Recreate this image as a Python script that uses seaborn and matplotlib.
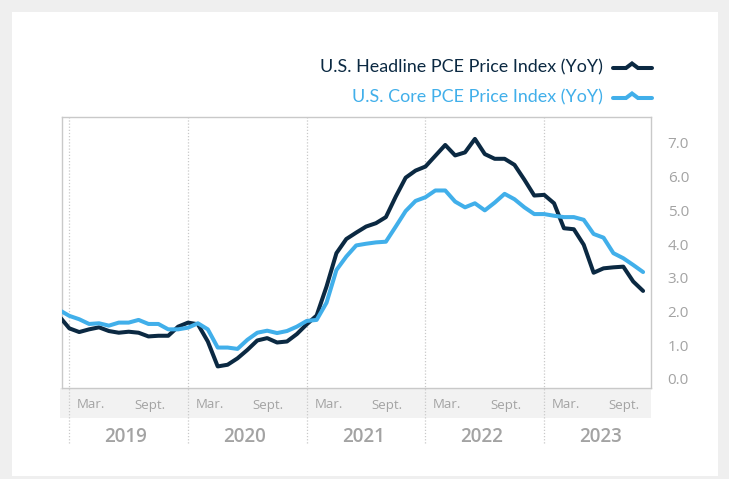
import numpy as np
import pandas as pd
import matplotlib
matplotlib.use("Agg")
import matplotlib.pyplot as plt
import seaborn as sns
from matplotlib.lines import Line2D
from matplotlib.patches import Rectangle

# ---------------- data ----------------
months = pd.date_range("2018-12-01", "2023-11-01", freq="MS")
headline = [1.85,
            1.50, 1.39, 1.47, 1.53, 1.42, 1.37, 1.40, 1.37, 1.26, 1.28, 1.28, 1.55,
            1.67, 1.62, 1.11, 0.37, 0.42, 0.61, 0.86, 1.14, 1.21, 1.08, 1.11, 1.33,
            1.62, 1.88, 2.74, 3.73, 4.15, 4.34, 4.52, 4.62, 4.80, 5.41, 5.97, 6.18,
            6.30, 6.62, 6.94, 6.63, 6.72, 7.12, 6.67, 6.53, 6.53, 6.35, 5.91, 5.44,
            5.46, 5.21, 4.47, 4.44, 3.98, 3.15, 3.28, 3.31, 3.33, 2.89, 2.61]
core = [2.04,
        1.87, 1.77, 1.63, 1.65, 1.58, 1.67, 1.67, 1.75, 1.63, 1.63, 1.47, 1.47,
        1.52, 1.65, 1.47, 0.93, 0.93, 0.89, 1.16, 1.37, 1.43, 1.36, 1.42, 1.55,
        1.72, 1.75, 2.26, 3.23, 3.63, 3.96, 4.01, 4.05, 4.07, 4.52, 4.98, 5.28,
        5.39, 5.59, 5.59, 5.26, 5.09, 5.21, 5.00, 5.23, 5.49, 5.33, 5.09, 4.89,
        4.89, 4.84, 4.80, 4.80, 4.72, 4.30, 4.19, 3.73, 3.58, 3.38, 3.17]
series_names = ["U.S. Headline PCE Price Index (YoY)", "U.S. Core PCE Price Index (YoY)"]
years = ["2019", "2020", "2021", "2022", "2023"]
month_labels = ["Mar.", "Sept."]
y_ticks = [0, 1, 2, 3, 4, 5, 6, 7]

NAVY = "#0b2942"
SKY = "#41afea"
GRAY_TXT = "#a3a3a3"
GRID = "#c9c9c9"

idx = np.arange(len(months))
df = pd.DataFrame({
    "t": np.concatenate([idx, idx]),
    "value": headline + core,
    "series": [series_names[0]] * len(idx) + [series_names[1]] * len(idx),
})

sns.set_style("white")
plt.rcParams["font.family"] = ["Open Sans", "DejaVu Sans"]

W, H = 729, 479
fig = plt.figure(figsize=(W / 100, H / 100), dpi=100, facecolor="#efefef")
panel = Rectangle((12 / W, 1 - 476 / H), 706 / W, 464 / H,
                  transform=fig.transFigure, facecolor="white",
                  edgecolor="none", zorder=-10)
fig.add_artist(panel)

ax_l, ax_r, ax_t, ax_b = 62, 651, 117, 388
ax = fig.add_axes([ax_l / W, 1 - ax_b / H, (ax_r - ax_l) / W, (ax_b - ax_t) / H])
ax.set_facecolor("white")

sns.lineplot(data=df, x="t", y="value", hue="series",
             palette={series_names[0]: NAVY, series_names[1]: SKY},
             linewidth=2.9, legend=False, ax=ax, zorder=5)

ax.set_xlim(0.26, 59.8)
ax.set_ylim(-0.27, 7.77)
ax.set_xlabel("")
ax.set_ylabel("")
ax.set_xticks([])
ax.yaxis.tick_right()
ax.set_yticks(y_ticks)
ax.set_yticklabels([f"{v:.1f}" for v in y_ticks], color=GRAY_TXT, fontsize=11)
ax.tick_params(axis="y", length=0, pad=12)
for s in ax.spines.values():
    s.set_color(GRID)
    s.set_linewidth(1.0)

ax_h = ax_b - ax_t
def yfrac(py):
    return (ax_b - py) / ax_h

# month band
ax.add_patch(Rectangle((-(ax_l - 60) / (ax_r - ax_l), yfrac(418)),
                       1 + (ax_l - 60) / (ax_r - ax_l), yfrac(388) - yfrac(418),
                       transform=ax.transAxes, facecolor="#f2f2f2",
                       edgecolor="none", clip_on=False, zorder=0))

# year separators
for k in range(len(years)):
    ax.axvline(1 + 12 * k, ymin=yfrac(443), ymax=1, color=GRID, lw=0.9,
               ls=(0, (1, 1.5)), clip_on=False, zorder=1)

trans = ax.get_xaxis_transform()
for k, yr in enumerate(years):
    ax.text(3.2 + 12 * k, yfrac(405), month_labels[0], transform=trans,
            ha="center", va="center", fontsize=9.5, color=GRAY_TXT)
    ax.text(9.1 + 12 * k, yfrac(405), month_labels[1], transform=trans,
            ha="center", va="center", fontsize=9.5, color=GRAY_TXT)
    ax.text(6.7 + 12 * k, yfrac(437), yr, transform=trans,
            ha="center", va="center", fontsize=13.5, fontweight="semibold",
            color=GRAY_TXT)

# legend
for name, col, py in [(series_names[0], NAVY, 67), (series_names[1], SKY, 97)]:
    fig.text(603 / W, 1 - py / H, name, ha="right", va="center",
             fontsize=12.9, color=col, family=["Lato", "DejaVu Sans"])
    xs = np.array([613, 626, 632, 638, 652]) / W
    ys = 1 - np.array([py + 1, py + 1, py - 3.5, py + 1, py + 1]) / H
    fig.lines.append(Line2D(xs, ys, transform=fig.transFigure, color=col,
                            lw=2.9, solid_joinstyle="miter",
                            solid_capstyle="round"))

fig.savefig("out.png", dpi=100, facecolor=fig.get_facecolor())
